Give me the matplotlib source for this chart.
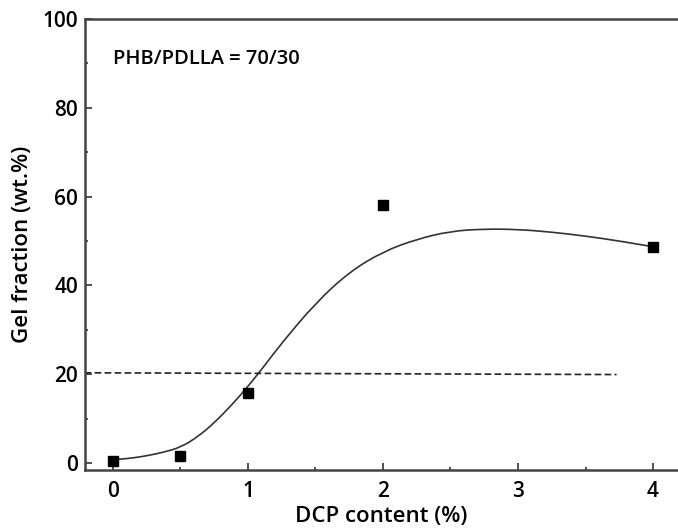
import matplotlib
matplotlib.use("Agg")
import matplotlib.pyplot as plt
from matplotlib.ticker import MultipleLocator
from matplotlib.path import Path
from matplotlib.patches import PathPatch

plt.rcParams['font.family'] = ['Open Sans', 'DejaVu Sans']
plt.rcParams['font.weight'] = 'semibold'

# measured gel fraction
dcp = [0, 0.5, 1, 2, 4]
gel = [0.5, 1.6, 15.7, 58.2, 48.7]

# smooth trend curve
curve_x = [0, 0.125, 0.25, 0.375, 0.5, 0.625, 0.75, 0.875, 1.0, 1.125, 1.25,
           1.5, 1.75, 2.0, 2.25, 2.5, 2.75, 3.0, 3.25, 3.5, 3.75, 4.0]
curve_y = [0.7, 1.0, 1.6, 2.4, 3.5, 5.8, 9.0, 12.9, 17.2, 22.0, 27.0,
           36.0, 43.0, 47.6, 50.4, 52.2, 52.7, 52.6, 52.0, 51.1, 50.0, 48.7]

# threshold line
thr_x = [-0.21, 3.73]
thr_y = [20.3, 19.9]

fig = plt.figure(figsize=(6.78, 5.32), dpi=100)
ax = fig.add_axes([85 / 678, 62 / 532, 1 - 85 / 678, (470 - 19) / 532])

# quadratic Bezier through the midpoints of the curve samples
pts = list(zip(curve_x, curve_y))
verts = [pts[0]]
codes = [Path.MOVETO]
for i in range(1, len(pts) - 1):
    mid = ((pts[i][0] + pts[i + 1][0]) / 2, (pts[i][1] + pts[i + 1][1]) / 2)
    if i == len(pts) - 2:
        mid = pts[i + 1]
    verts += [pts[i], mid]
    codes += [Path.CURVE3, Path.CURVE3]
ax.add_patch(PathPatch(Path(verts, codes), facecolor='none', edgecolor='#333333',
                       lw=1.2, zorder=2))

ax.plot(thr_x, thr_y, color='#222222', lw=1.2, ls=(0, (4, 2)), zorder=2)
ax.plot(dcp, gel, ls='none', marker='s', ms=7.5, color='black', zorder=3)

ax.set_xlim(-0.207, 4.185)
ax.set_ylim(-1.6, 100)
ax.xaxis.set_major_locator(MultipleLocator(1))
ax.xaxis.set_minor_locator(MultipleLocator(0.5))
ax.yaxis.set_major_locator(MultipleLocator(20))
ax.yaxis.set_minor_locator(MultipleLocator(10))

ax.tick_params(which='major', direction='in', length=5, width=1.2, color='#333333',
               labelsize=15)
ax.tick_params(which='minor', direction='in', length=2.5, width=1.2, color='#333333')
ax.tick_params(axis='x', which='major', pad=8)
ax.tick_params(axis='y', which='major', pad=5)

for side in ('left', 'bottom', 'top'):
    ax.spines[side].set_linewidth(1.8)
    ax.spines[side].set_color('#444444')
ax.spines['right'].set_visible(False)

ax.set_xlabel('DCP content (%)', fontsize=16, fontweight='semibold', labelpad=3)
ax.set_ylabel('Gel fraction (wt.%)', fontsize=16, fontweight='semibold', labelpad=7)

ax.text(0.0, 91, 'PHB/PDLLA = 70/30', fontsize=14.5, fontweight='semibold',
        ha='left', va='center')

fig.savefig('out.png', dpi=100)
